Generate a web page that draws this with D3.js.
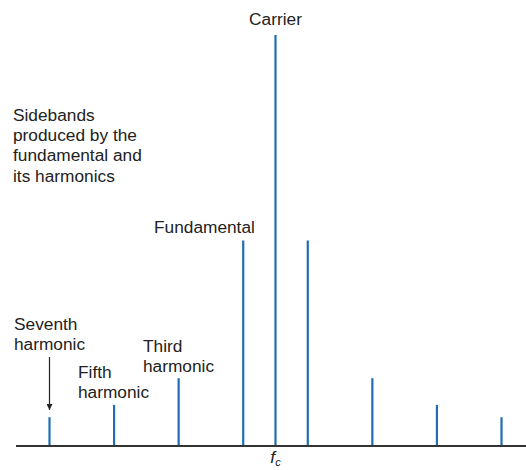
<!DOCTYPE html>
<html>
<head>
<meta charset="utf-8">
<script src="https://cdn.jsdelivr.net/npm/d3@7"></script>
<style>
  html, body { margin: 0; padding: 0; background: #fff; }
  svg { display: block; font-family: "Liberation Sans", Arial, Helvetica, sans-serif; }
</style>
</head>
<body>
<svg id="chart" width="526" height="470"></svg>
<script>
// Spectral lines: offset from carrier in multiples of the modulating frequency
const offsets = [-7, -5, -3, -1, 0, 1, 3, 5, 7];
// Relative amplitudes (carrier = 1)
const amplitudes = [0.07, 0.10, 0.165, 0.50, 1.0, 0.50, 0.165, 0.10, 0.07];

const labelCarrier = "Carrier";
const labelFundamental = "Fundamental";
const labelSidebands = ["Sidebands", "produced by the", "fundamental and", "its harmonics"];
const labelThird = ["Third", "harmonic"];
const labelFifth = ["Fifth", "harmonic"];
const labelSeventh = ["Seventh", "harmonic"];

const svg = d3.select("#chart");
const x = d3.scaleLinear().domain([-7, 7]).range([49.5, 501.5]);
const y = d3.scaleLinear().domain([0, 1]).range([446, 35]);

const blue = "#1f6db5";
const fs = 17.3;

// baseline
svg.append("line")
  .attr("x1", 16).attr("x2", 526)
  .attr("y1", y(0)).attr("y2", y(0))
  .attr("stroke", "#333").attr("stroke-width", 2);

// spectral lines
svg.selectAll("line.spec")
  .data(offsets.map((o, i) => ({o, a: amplitudes[i]})))
  .join("line")
  .attr("class", "spec")
  .attr("x1", d => x(d.o)).attr("x2", d => x(d.o))
  .attr("y1", y(0) - 1).attr("y2", d => y(d.a))
  .attr("stroke", blue).attr("stroke-width", 2.2);

function multiline(lines, tx, ty, lh, anchor) {
  const t = svg.append("text")
    .attr("x", tx).attr("y", ty)
    .attr("font-size", fs).attr("fill", "#222")
    .attr("text-anchor", anchor || "start");
  lines.forEach((l, i) => {
    t.append("tspan").attr("x", tx).attr("dy", i === 0 ? 0 : lh).text(l);
  });
  return t;
}

multiline([labelCarrier], x(0), 25, 20, "middle");
multiline([labelFundamental], 154, 233, 20);
multiline(labelSidebands, 13, 121, 20.2);
multiline(labelSeventh, 14, 330, 20);
multiline(labelFifth, 78, 378, 19.5);
multiline(labelThird, 143, 352, 19.5);

// arrow to seventh harmonic
svg.append("defs").append("marker")
  .attr("id", "arr").attr("viewBox", "0 0 10 10")
  .attr("refX", 10).attr("refY", 5)
  .attr("markerWidth", 6).attr("markerHeight", 6)
  .attr("markerUnits", "userSpaceOnUse")
  .attr("orient", "auto")
  .append("path").attr("d", "M0,0 L10,5 L0,10 Z").attr("fill", "#222");
svg.append("line")
  .attr("x1", x(-7)).attr("x2", x(-7))
  .attr("y1", 357).attr("y2", 410)
  .attr("stroke", "#222").attr("stroke-width", 1.2)
  .attr("marker-end", "url(#arr)");

// f_c label
const fc = svg.append("text")
  .attr("x", x(0)).attr("y", 463)
  .attr("font-size", fs).attr("fill", "#222")
  .attr("text-anchor", "middle");
fc.append("tspan").attr("font-style", "italic").text("f");
fc.append("tspan").attr("font-style", "italic").attr("font-size", 11).attr("dy", 3).text("c");
</script>
</body>
</html>
